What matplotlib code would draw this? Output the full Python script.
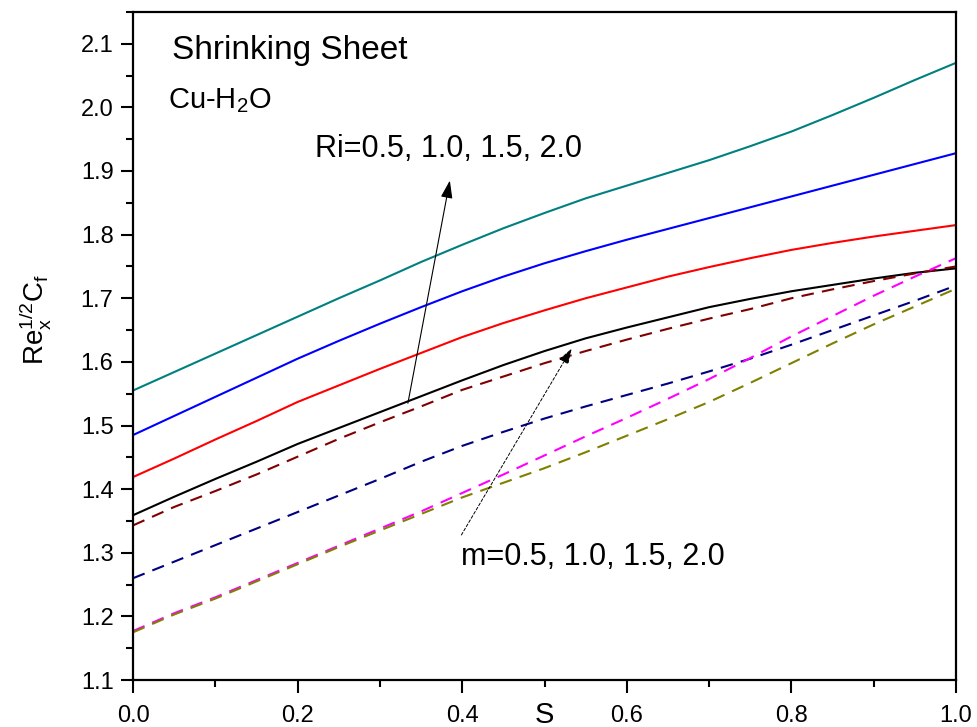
import numpy as np
import matplotlib
matplotlib.use("Agg")
import matplotlib.pyplot as plt
from matplotlib.ticker import MultipleLocator

plt.rcParams['font.family'] = ['Liberation Sans', 'DejaVu Sans']
plt.rcParams['mathtext.fontset'] = 'custom'
plt.rcParams['mathtext.rm'] = 'Liberation Sans'
plt.rcParams['mathtext.it'] = 'Liberation Sans:italic'

S = [0.0, 0.05, 0.1, 0.15, 0.2, 0.25, 0.3, 0.35, 0.4, 0.45, 0.5,
     0.55, 0.6, 0.65, 0.7, 0.75, 0.8, 0.85, 0.9, 0.95, 1.0]

# skin friction, solid curves: Ri = 0.5, 1.0, 1.5, 2.0
cf_ri05 = [1.359, 1.388, 1.416, 1.443, 1.471, 1.496, 1.521, 1.546, 1.571, 1.595, 1.617,
           1.637, 1.654, 1.670, 1.686, 1.699, 1.711, 1.721, 1.731, 1.740, 1.747]
cf_ri10 = [1.419, 1.448, 1.478, 1.507, 1.537, 1.563, 1.589, 1.614, 1.639, 1.661, 1.681,
           1.700, 1.717, 1.734, 1.749, 1.763, 1.776, 1.787, 1.797, 1.806, 1.815]
cf_ri15 = [1.485, 1.515, 1.545, 1.575, 1.605, 1.633, 1.660, 1.686, 1.711, 1.734, 1.755,
           1.774, 1.792, 1.809, 1.826, 1.843, 1.860, 1.877, 1.894, 1.911, 1.928]
cf_ri20 = [1.555, 1.584, 1.613, 1.642, 1.671, 1.700, 1.728, 1.757, 1.784, 1.810, 1.834,
           1.857, 1.877, 1.897, 1.917, 1.939, 1.962, 1.988, 2.015, 2.043, 2.070]

# dashed curves: m = 0.5, 1.0, 1.5, 2.0
cf_m05 = [1.343, 1.372, 1.397, 1.423, 1.451, 1.479, 1.505, 1.530, 1.556, 1.577, 1.598,
          1.617, 1.635, 1.652, 1.668, 1.683, 1.700, 1.714, 1.727, 1.739, 1.750]
cf_m10 = [1.260, 1.286, 1.312, 1.338, 1.364, 1.390, 1.416, 1.443, 1.468, 1.490, 1.511,
          1.530, 1.548, 1.566, 1.585, 1.605, 1.627, 1.650, 1.673, 1.696, 1.720]
cf_m15 = [1.177, 1.205, 1.230, 1.257, 1.284, 1.311, 1.338, 1.365, 1.394, 1.423, 1.453,
          1.483, 1.512, 1.542, 1.573, 1.606, 1.640, 1.672, 1.704, 1.734, 1.763]
cf_m20 = [1.175, 1.203, 1.228, 1.255, 1.282, 1.309, 1.335, 1.361, 1.387, 1.410, 1.433,
          1.458, 1.484, 1.510, 1.537, 1.567, 1.598, 1.629, 1.659, 1.687, 1.715]

solid = [(cf_ri05, 'black'), (cf_ri10, '#ff0000'), (cf_ri15, '#0000ff'), (cf_ri20, '#008080')]
dashed = [(cf_m05, '#800000'), (cf_m10, '#000080'), (cf_m15, '#ff00ff'), (cf_m20, '#808000')]

fig = plt.figure(figsize=(9.78, 7.27), dpi=100)
ax = fig.add_axes([0.136, 0.0646, 0.8415, 0.919])

for vals, c in solid:
    ax.plot(S, vals, color=c, lw=1.5)
for vals, c in dashed:
    ax.plot(S, vals, color=c, lw=1.5, dashes=(6, 4))

ax.set_xlim(0, 1.0)
ax.set_ylim(1.1, 2.15)
ax.xaxis.set_major_locator(MultipleLocator(0.2))
ax.xaxis.set_minor_locator(MultipleLocator(0.1))
ax.yaxis.set_major_locator(MultipleLocator(0.1))
ax.yaxis.set_minor_locator(MultipleLocator(0.05))
ax.xaxis.set_major_formatter(plt.FormatStrFormatter('%.1f'))
ax.yaxis.set_major_formatter(plt.FormatStrFormatter('%.1f'))
ax.tick_params(which='major', direction='out', length=9, width=1.5, labelsize=17, pad=5)
ax.tick_params(which='minor', direction='out', length=5, width=1.5)
ax.tick_params(axis='x', which='major', pad=9)
for sp in ax.spines.values():
    sp.set_linewidth(1.6)

ax.set_xlabel('S', fontsize=21, labelpad=-19)
ax.set_ylabel(r'$\mathrm{Re}_\mathrm{x}^{1/2}\mathrm{C}_\mathrm{f}$', fontsize=20)
ax.yaxis.set_label_coords(-0.097, 0.54)

ax.text(0.047, 2.09, 'Shrinking Sheet', fontsize=24, va='center')
ax.text(0.042, 2.011, r'Cu-H$_2$O', fontsize=21, va='center')
ax.text(0.221, 1.935, 'Ri=0.5, 1.0, 1.5, 2.0', fontsize=22, va='center')
ax.text(0.399, 1.293, 'm=0.5, 1.0, 1.5, 2.0', fontsize=22, va='center')

ax.annotate('', xy=(0.385, 1.885), xytext=(0.334, 1.535),
            arrowprops=dict(arrowstyle='-|>,head_length=0.6,head_width=0.2', color='black',
                            lw=0.8, mutation_scale=18, shrinkA=0, shrinkB=0))
ax.annotate('', xy=(0.533, 1.621), xytext=(0.399, 1.328),
            arrowprops=dict(arrowstyle='-|>,head_length=0.6,head_width=0.2', color='black',
                            lw=0.7, ls=(0, (3, 2)), mutation_scale=16, shrinkA=0, shrinkB=0))

fig.savefig('out.png', dpi=100)
